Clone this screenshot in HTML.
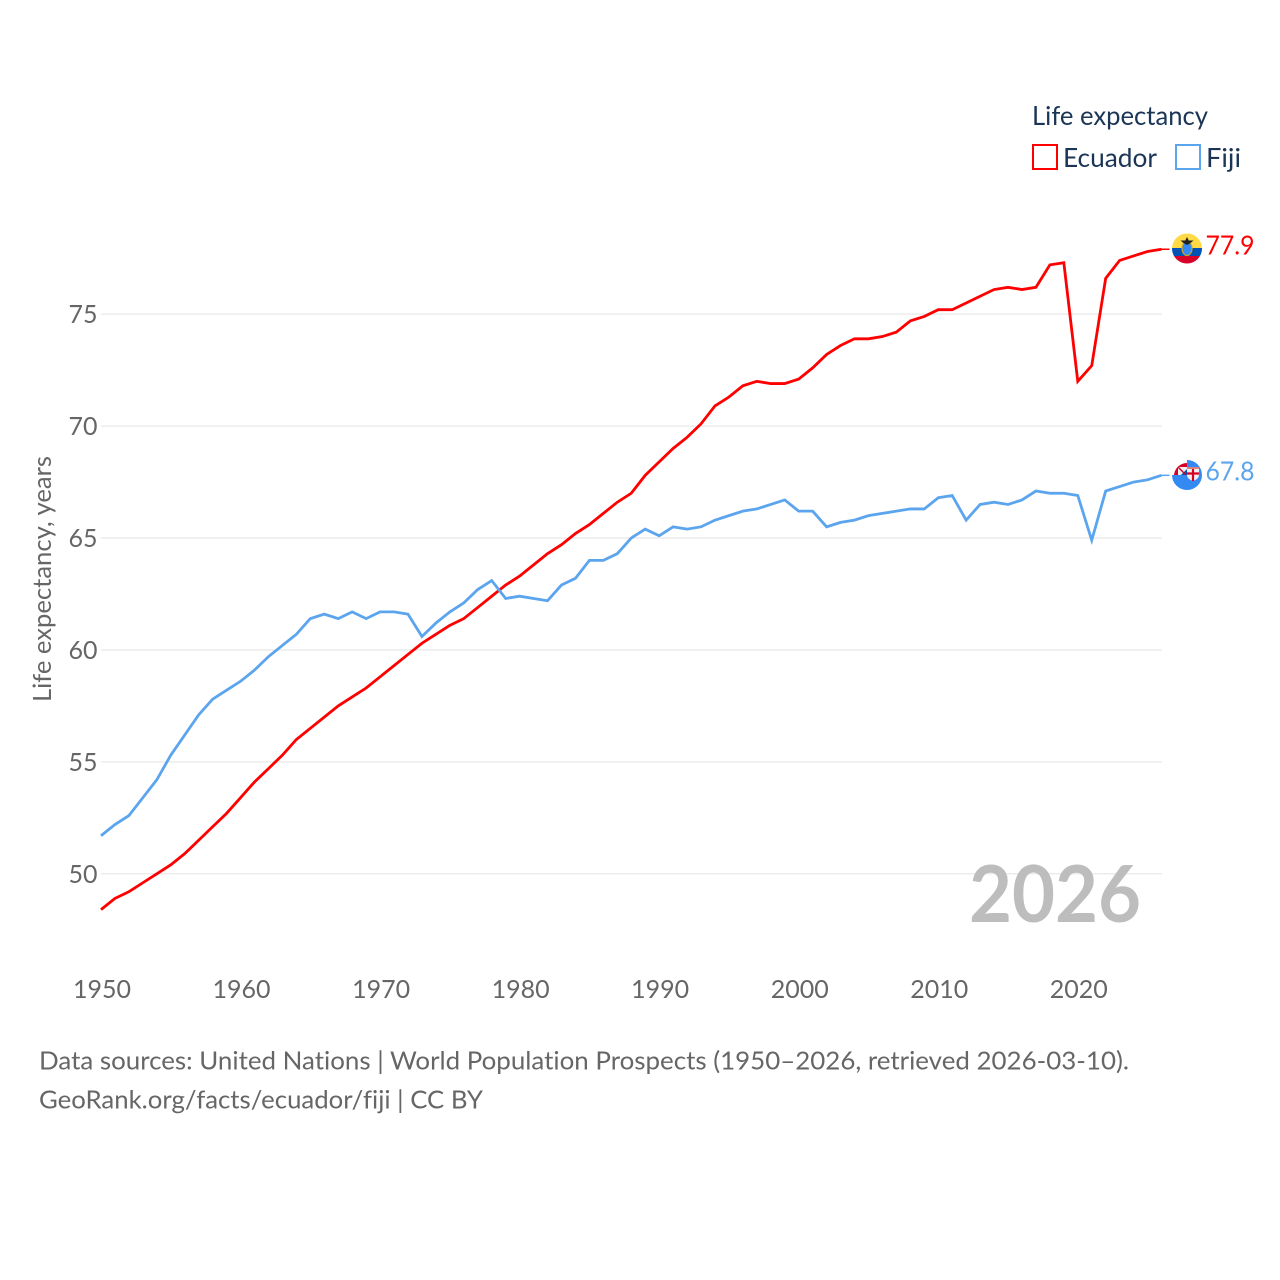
<!DOCTYPE html>
<html lang="en">
<head>
<meta charset="utf-8">
<title>Life expectancy: Ecuador and Fiji</title>
<style>
html,body{margin:0;padding:0;background:#fff;}
svg{display:block;font-family:"Lato","Carlito","Liberation Sans",sans-serif;font-variant-ligatures:none;}
</style>
</head>
<body>
<svg id="chart" xmlns="http://www.w3.org/2000/svg" width="1280" height="1280" viewBox="0 0 1280 1280">
  <rect x="0" y="0" width="1280" height="1280" fill="#ffffff"/>
  <g id="grid"></g>
  <g id="yticks"></g>
  <g id="xticks"></g>
  <text transform="translate(51,579) rotate(-90)" text-anchor="middle" font-size="25" fill="#666666" textLength="246" lengthAdjust="spacingAndGlyphs">Life expectancy, years</text>
  <text x="969" y="922" font-size="79" font-weight="700" fill="#bdbdbd" textLength="172" lengthAdjust="spacingAndGlyphs">2026</text>
  <g id="series"></g>

  <defs>
    <clipPath id="clip-ec"><circle cx="1187" cy="248.5" r="15"/></clipPath>
    <clipPath id="clip-fj-union"><rect x="1170" y="458" width="17" height="17"/></clipPath>
  </defs>
  <g clip-path="url(#clip-ec)">
    <rect x="1172" y="233" width="30" height="15.5" fill="#ffda44"/>
    <rect x="1172" y="248" width="30" height="8" fill="#0052b4"/>
    <rect x="1172" y="256" width="30" height="9" fill="#d80027"/>
    <ellipse cx="1187" cy="248.5" rx="5" ry="7" fill="#338af3" stroke="#c9a227" stroke-width="1.2"/>
    <path d="M1180.5 240.5h13l-3 2.5-3.5 2-3.5-2z M1187 237l2 4h-4z" fill="#222222"/>
  </g>
  <g>
    <circle cx="1187" cy="475" r="15" fill="#338af3"/>
    <g clip-path="url(#clip-fj-union)">
      <rect x="1170" y="458" width="17" height="17" fill="#ffffff"/>
      <circle cx="1187" cy="476" r="13" fill="#d80027"/>
      <rect x="1178" y="467" width="9" height="8" fill="#f0f0f0"/>
      <path d="M1181 475l6-6v6z" fill="#0052b4"/>
      <path d="M1178 467l8 8" stroke="#d80027" stroke-width="1.4"/>
    </g>
    <path d="M1187 467h12v8q0 4-6 6q-6-2-6-6z" fill="#f0f0f0"/>
    <path d="M1193 469v12M1187 473.5h12" stroke="#d80027" stroke-width="2.2"/>
    <rect x="1187" y="467" width="12" height="2" fill="#d98080"/>
  </g>
  <text x="1205.5" y="254.5" font-size="26" fill="#ff0000" textLength="49" lengthAdjust="spacingAndGlyphs">77.9</text>
  <text x="1205.5" y="480.5" font-size="26" fill="#5ba4ee" textLength="49" lengthAdjust="spacingAndGlyphs">67.8</text>

  <g>
    <text x="1032" y="125" font-size="26" fill="#1b3556" textLength="176" lengthAdjust="spacingAndGlyphs">Life expectancy</text>
    <rect x="1033" y="145" width="24" height="24" fill="none" stroke="#ff0000" stroke-width="2"/>
    <text x="1063" y="167" font-size="26" fill="#1b3556" textLength="94" lengthAdjust="spacingAndGlyphs">Ecuador</text>
    <rect x="1176" y="145" width="24" height="24" fill="none" stroke="#5ba4ee" stroke-width="2"/>
    <text x="1206" y="167" font-size="26" fill="#1b3556" textLength="35" lengthAdjust="spacingAndGlyphs">Fiji</text>
  </g>

  <text x="39" y="1069.5" font-size="25" fill="#666666" textLength="1090" lengthAdjust="spacingAndGlyphs">Data sources: United Nations | World Population Prospects (1950–2026, retrieved 2026-03-10).</text>
  <text x="39" y="1108.5" font-size="25" fill="#666666" textLength="444" lengthAdjust="spacingAndGlyphs">GeoRank.org/facts/ecuador/fiji | CC BY</text>
</svg>
<script>
const startYear = 1950;
const endYear = 2026;
const yTickValues = [50, 55, 60, 65, 70, 75];
const xTickValues = [1950, 1960, 1970, 1980, 1990, 2000, 2010, 2020];
const ecuadorValues = [48.4,48.9,49.2,49.6,50.0,50.4,50.9,51.5,52.1,52.7,53.4,54.1,54.7,55.3,56.0,56.5,57.0,57.5,57.9,58.3,58.8,59.3,59.8,60.3,60.7,61.1,61.4,61.9,62.4,62.9,63.3,63.8,64.3,64.7,65.2,65.6,66.1,66.6,67.0,67.8,68.4,69.0,69.5,70.1,70.9,71.3,71.8,72.0,71.9,71.9,72.1,72.6,73.2,73.6,73.9,73.9,74.0,74.2,74.7,74.9,75.2,75.2,75.5,75.8,76.1,76.2,76.1,76.2,77.2,77.3,72.0,72.7,76.6,77.4,77.6,77.8,77.9];
const fijiValues = [51.7,52.2,52.6,53.4,54.2,55.3,56.2,57.1,57.8,58.2,58.6,59.1,59.7,60.2,60.7,61.4,61.6,61.4,61.7,61.4,61.7,61.7,61.6,60.6,61.2,61.7,62.1,62.7,63.1,62.3,62.4,62.3,62.2,62.9,63.2,64.0,64.0,64.3,65.0,65.4,65.1,65.5,65.4,65.5,65.8,66.0,66.2,66.3,66.5,66.7,66.2,66.2,65.5,65.7,65.8,66.0,66.1,66.2,66.3,66.3,66.8,66.9,65.8,66.5,66.6,66.5,66.7,67.1,67.0,67.0,66.9,64.9,67.1,67.3,67.5,67.6,67.8];

const NS = 'http://www.w3.org/2000/svg';
const plotLeft = 101, plotRight = 1161.5;
const xScale = function (year) {
  return plotLeft + (year - startYear) * (plotRight - plotLeft) / (endYear - startYear);
};
const yScale = function (value) {
  return 873.8 - (value - 50) * 22.385;
};

const grid = document.getElementById('grid');
const yticks = document.getElementById('yticks');
yTickValues.forEach(function (v) {
  const line = document.createElementNS(NS, 'line');
  
  
  line.setAttribute('x1', plotLeft);
  line.setAttribute('x2', 1162);
  line.setAttribute('y1', yScale(v));
  line.setAttribute('y2', yScale(v));
  line.setAttribute('stroke', '#ececec');
  line.setAttribute('stroke-width', '1.5');
  grid.appendChild(line);
  const label = document.createElementNS(NS, 'text');
  
  
  label.setAttribute('x', 97.5);
  label.setAttribute('y', yScale(v) + 9);
  label.setAttribute('text-anchor', 'end');
  label.setAttribute('font-size', '25');
  label.setAttribute('fill', '#666666');
  label.textContent = v;
  yticks.appendChild(label);
});

const xticks = document.getElementById('xticks');
xTickValues.forEach(function (t) {
  const label = document.createElementNS(NS, 'text');
  
  
  label.setAttribute('x', xScale(t) + 1);
  label.setAttribute('y', 998);
  label.setAttribute('text-anchor', 'middle');
  label.setAttribute('font-size', '25');
  label.setAttribute('fill', '#666666');
  label.textContent = t;
  xticks.appendChild(label);
});

const seriesGroup = document.getElementById('series');
function pathFrom(values) {
  return values.map(function (v, i) {
    return (i ? 'L' : 'M') + xScale(startYear + i).toFixed(2) + ' ' + yScale(v).toFixed(2);
  }).join(' ');
}
function lastY(values) {
  return yScale(values[values.length - 1]);
}

const ecuadorLine = document.createElementNS(NS, 'path');


ecuadorLine.setAttribute('d', pathFrom(ecuadorValues));
ecuadorLine.setAttribute('fill', 'none');
ecuadorLine.setAttribute('stroke', '#ff0000');
ecuadorLine.setAttribute('stroke-width', '2.8');
ecuadorLine.setAttribute('stroke-linejoin', 'miter');
seriesGroup.appendChild(ecuadorLine);

const fijiLine = document.createElementNS(NS, 'path');


fijiLine.setAttribute('d', pathFrom(fijiValues));
fijiLine.setAttribute('fill', 'none');
fijiLine.setAttribute('stroke', '#5ba4ee');
fijiLine.setAttribute('stroke-width', '2.8');
fijiLine.setAttribute('stroke-linejoin', 'miter');
seriesGroup.appendChild(fijiLine);

const ecuadorConnector = document.createElementNS(NS, 'line');


ecuadorConnector.setAttribute('x1', plotRight);
ecuadorConnector.setAttribute('x2', plotRight + 8);
ecuadorConnector.setAttribute('y1', lastY(ecuadorValues));
ecuadorConnector.setAttribute('y2', lastY(ecuadorValues));
ecuadorConnector.setAttribute('stroke', '#ff0000');
ecuadorConnector.setAttribute('stroke-width', '1.5');
seriesGroup.appendChild(ecuadorConnector);

const fijiConnector = document.createElementNS(NS, 'line');


fijiConnector.setAttribute('x1', plotRight);
fijiConnector.setAttribute('x2', plotRight + 8);
fijiConnector.setAttribute('y1', lastY(fijiValues));
fijiConnector.setAttribute('y2', lastY(fijiValues));
fijiConnector.setAttribute('stroke', '#5ba4ee');
fijiConnector.setAttribute('stroke-width', '1.5');
seriesGroup.appendChild(fijiConnector);
</script>
</body>
</html>
